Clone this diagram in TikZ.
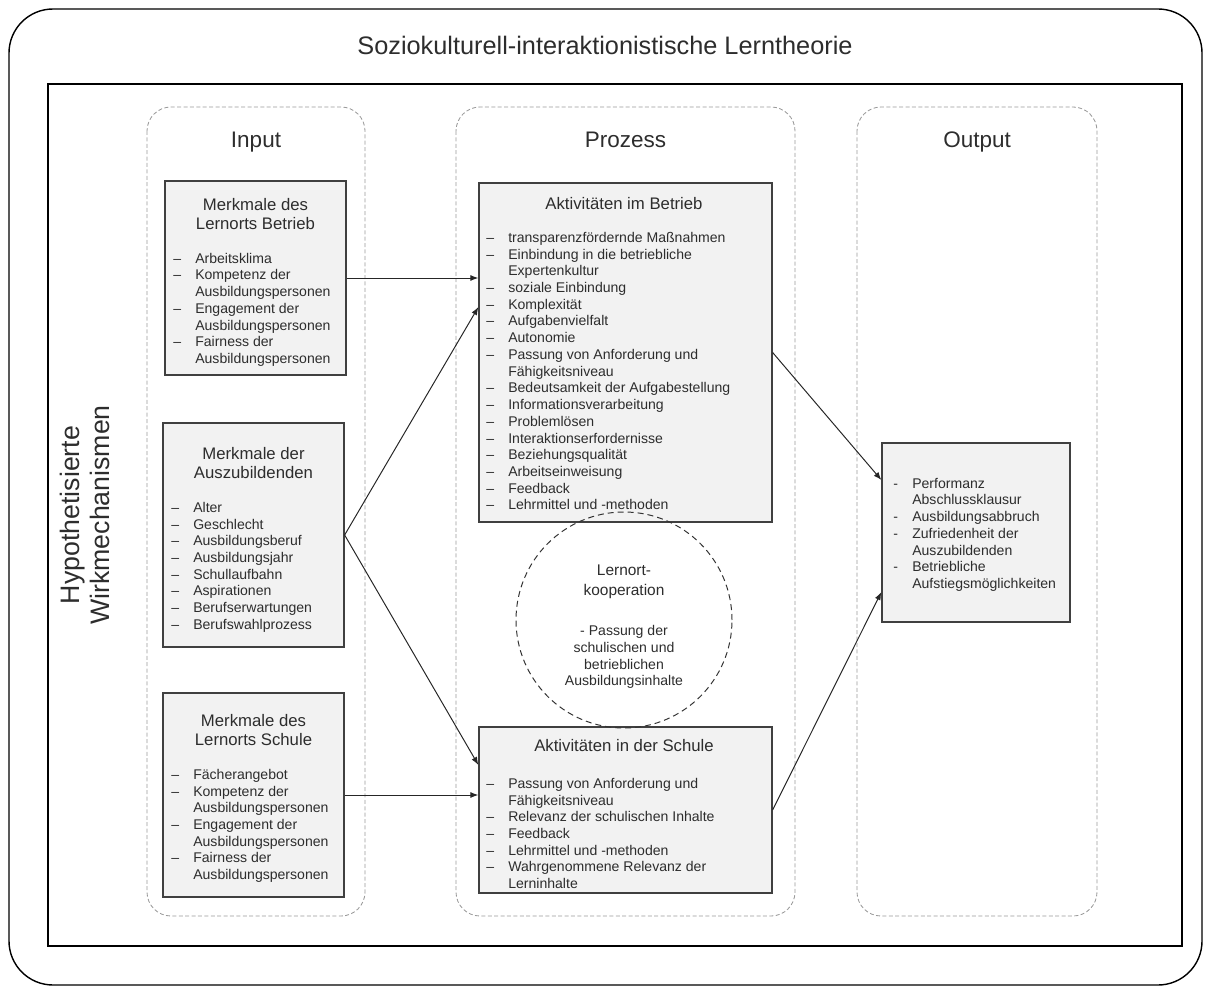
\documentclass[tikz,border=0pt]{standalone}
\usepackage{fontspec}
\setmainfont{Liberation Sans}
\usepackage{tikz}
\usetikzlibrary{arrows.meta, calc, fit}
\usepackage{xcolor}

\definecolor{boxgray}{RGB}{242,242,242}
\definecolor{txt}{RGB}{45,45,45}
\tikzset{
  box/.style={draw=black!75, line width=0.9pt, fill=boxgray, inner sep=0pt},
  col/.style={draw=black!40, line width=0.6pt, dash pattern=on 1mm off 0.6mm, rounded corners=6mm},
  hd/.style={font=\fontsize{16}{19}\selectfont, text=txt, anchor=base, inner sep=0pt},
  ttl/.style={font=\fontsize{11.9}{13.5}\selectfont, align=center, anchor=north, inner sep=0pt, text=txt},
  lst/.style={font=\fontsize{10}{11.9}\selectfont, align=left, anchor=north west, inner sep=0pt, text=txt},
  arr/.style={-{Latex[length=2mm,width=1.5mm]}, line width=0.7pt, draw=black!85},
}
\newcommand{\itm}{\makebox[5.5mm][l]{–}}
\newcommand{\cnt}{\hspace*{5.5mm}}
\newcommand{\hyp}{\makebox[4.75mm][l]{-}}
\newcommand{\hcnt}{\hspace*{4.75mm}}

\begin{document}
\begin{tikzpicture}[x=0.25mm, y=-0.25mm]
    \useasboundingbox (0,0) rectangle (1210,988);
    \draw[line width=1pt, rounded corners=11mm] (9,9) rectangle (1202,985);
    \node[font=\fontsize{18}{20}\selectfont, text=txt] (theorie) at (605,45) {Soziokulturell-interaktionistische Lerntheorie};
    \draw[line width=0.8pt] (48,84) rectangle (1182,946);
    \node[rotate=90, align=center, font=\fontsize{19}{21.5}\selectfont, text=txt] (wirk) at (85,515) {Hypothetisierte\\Wirkmechanismen};

    \foreach \a/\b/\t in {147/365/Input, 456/795/Prozess, 857/1097/Output} {
        \draw[col] (\a,107) rectangle (\b,916);
        \node[hd] (h\t) at ({(\a+\b)/2},147.5) {\t};
    }

    \foreach \n/\p/\q in {lbet/{165,181}/{346,375}, azubi/{163,423}/{344,647}, lsch/{163,693}/{344,897},
                          abet/{479,183}/{772,522}, asch/{479,727}/{772,893}, out/{882,443}/{1070,622}} {
        \node[box, fit={(\p) (\q)}] (\n) {};
    }

    \node[ttl] (lbet-t) at (255.5,198) {Merkmale des\\Lernorts Betrieb};
    \node[lst] (lbet-l) at (173,252.8) {\itm Arbeitsklima\\\itm Kompetenz der\\\cnt Ausbildungspersonen\\\itm Engagement der\\\cnt Ausbildungspersonen\\\itm Fairness der\\\cnt Ausbildungspersonen};

    \node[ttl] (azubi-t) at (253.5,446.8) {Merkmale der\\Auszubildenden};
    \node[lst] (azubi-l) at (171,501.8) {\itm Alter\\\itm Geschlecht\\\itm Ausbildungsberuf\\\itm Ausbildungsjahr\\\itm Schullaufbahn\\\itm Aspirationen\\\itm Berufserwartungen\\\itm Berufswahlprozess};

    \node[ttl] (lsch-t) at (253.5,713.8) {Merkmale des\\Lernorts Schule};
    \node[lst] (lsch-l) at (171,768.8) {\itm Fächerangebot\\\itm Kompetenz der\\\cnt Ausbildungspersonen\\\itm Engagement der\\\cnt Ausbildungspersonen\\\itm Fairness der\\\cnt Ausbildungspersonen};

    \node[ttl] (abet-t) at (624,196.8) {Aktivitäten im Betrieb};
    \node[lst] (abet-l) at (486,231.8) {\itm transparenzfördernde Maßnahmen\\\itm Einbindung in die betriebliche\\\cnt Expertenkultur\\\itm soziale Einbindung\\\itm Komplexität\\\itm Aufgabenvielfalt\\\itm Autonomie\\\itm Passung von Anforderung und\\\cnt Fähigkeitsniveau\\\itm Bedeutsamkeit der Aufgabestellung\\\itm Informationsverarbeitung\\\itm Problemlösen\\\itm Interaktionserfordernisse\\\itm Beziehungsqualität\\\itm Arbeitseinweisung\\\itm Feedback\\\itm Lehrmittel und -methoden};

    \node[ttl] (asch-t) at (624,738.8) {Aktivitäten in der Schule};
    \node[lst] (asch-l) at (486,777.8) {\itm Passung von Anforderung und\\\cnt Fähigkeitsniveau\\\itm Relevanz der schulischen Inhalte\\\itm Feedback\\\itm Lehrmittel und -methoden\\\itm Wahrgenommene Relevanz der\\\cnt Lerninhalte};

    \node[lst] (out-l) at (893,477.8) {\hyp Performanz\\\hcnt Abschlussklausur\\\hyp Ausbildungsabbruch\\\hyp Zufriedenheit der\\\hcnt Auszubildenden\\\hyp Betriebliche\\\hcnt Aufstiegsmöglichkeiten};

    \node[draw=black!80, circle, dash pattern=on 1.5mm off 1mm, line width=0.7pt, minimum size=54mm, inner sep=0pt] (koop) at (624,620) {};
    \node[font=\fontsize{11}{14.2}\selectfont, align=center, anchor=north, inner sep=0pt, text=txt] (koop-t) at (624,564.3) {Lernort-\\kooperation};
    \node[font=\fontsize{10}{12}\selectfont, align=center, anchor=north, inner sep=0pt, text=txt] (koop-l) at (624,624.8) {- Passung der\\schulischen und\\betrieblichen\\Ausbildungsinhalte};

    \draw[arr] (lbet.east) -- (lbet.east -| abet.west);
    \draw[arr] (azubi.east) -- ($(abet.west)+(0,-45.5)$);
    \draw[arr] (azubi.east) -- ($(asch.west)+(0,-45)$);
    \draw[arr] (lsch.east) -- (lsch.east -| asch.west);
    \draw[arr] (abet.east) -- ($(out.west)+(0,-52.5)$);
    \draw[arr] (asch.east) -- ($(out.west)+(0,59.5)$);
\end{tikzpicture}
\end{document}
